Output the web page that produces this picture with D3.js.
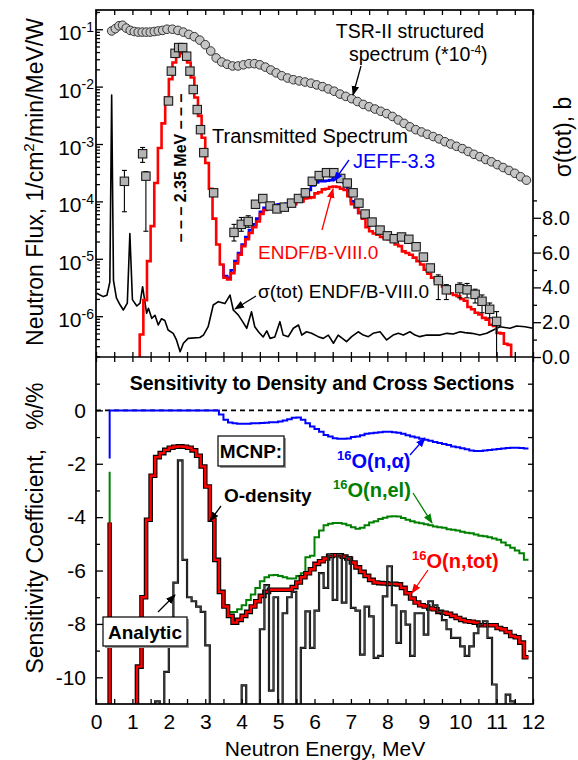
<!DOCTYPE html>
<html><head><meta charset="utf-8">
<script src="https://cdn.jsdelivr.net/npm/d3@7"></script>
<style>
body{margin:0;background:#fff;}
svg text{font-family:"Liberation Sans",Arial,Helvetica,sans-serif;}
</style></head><body>
<svg id="chart" width="578" height="760"></svg>
<script>
// ---------------- DATA ----------------
// TSR-II structured spectrum (*1e-4), log10 flux
const tsrE = [0.43,0.53,0.63,0.73,0.83,0.94,1.05,1.16,1.27,1.38,1.49,1.60,1.71,1.83,1.95,2.10,2.25,2.40,2.55,2.70,2.85,3.00,3.15,3.30,3.45,3.60,3.75,3.90,4.05,4.20,4.35,4.50,4.65,4.80,4.95,5.10,5.26,5.42,5.58,5.74,5.90,6.06,6.22,6.38,6.54,6.70,6.86,7.02,7.18,7.34,7.50,7.66,7.82,7.98,8.14,8.30,8.46,8.62,8.78,8.94,9.10,9.26,9.42,9.58,9.74,9.90,10.06,10.22,10.38,10.54,10.70,10.86,11.02,11.18,11.34,11.50,11.66,11.82];
const tsrLog = [-1.03,-0.99,-0.94,-0.93,-0.98,-1.02,-1.04,-1.05,-1.05,-1.05,-1.05,-1.04,-1.03,-1.02,-1.00,-1.00,-1.02,-1.05,-1.09,-1.13,-1.19,-1.27,-1.38,-1.50,-1.57,-1.61,-1.64,-1.64,-1.62,-1.60,-1.60,-1.62,-1.66,-1.71,-1.76,-1.81,-1.85,-1.88,-1.90,-1.92,-1.94,-1.97,-2.00,-2.04,-2.08,-2.13,-2.17,-2.21,-2.26,-2.31,-2.35,-2.39,-2.43,-2.47,-2.52,-2.58,-2.64,-2.70,-2.75,-2.79,-2.83,-2.87,-2.91,-2.96,-3.00,-3.04,-3.08,-3.13,-3.18,-3.22,-3.27,-3.31,-3.36,-3.41,-3.46,-3.51,-3.57,-3.63];

// Transmitted spectrum (measured), log10 flux and error bars
const transE = [0.78,1.28,1.37,1.99,2.07,2.17,2.27,2.38,2.49,2.58,2.67,2.78,2.87,2.96,3.23,3.79,3.99,4.18,4.38,4.58,4.78,4.97,5.17,5.37,5.56,5.75,5.94,6.13,6.33,6.53,6.72,6.90,7.06,7.22,7.39,7.58,7.80,8.00,8.19,8.39,8.59,8.79,8.99,9.18,9.40,9.62,9.99,10.19,10.41,10.60,10.81,11.00];
const transLog = [-3.65,-3.17,-3.56,-2.25,-1.73,-1.42,-1.32,-1.32,-1.47,-1.73,-2.05,-2.40,-2.75,-3.15,-3.85,-4.54,-4.40,-4.35,-4.05,-3.95,-4.08,-4.13,-4.10,-4.03,-3.95,-3.85,-3.65,-3.55,-3.50,-3.50,-3.60,-3.68,-3.85,-4.03,-4.22,-4.36,-4.50,-4.60,-4.65,-4.62,-4.66,-4.79,-4.97,-5.16,-5.38,-5.54,-5.52,-5.54,-5.62,-5.74,-5.88,-6.09];
const transErrLo = [-4.18,-3.32,-4.52,null,null,null,null,null,null,null,null,null,null,null,null,-4.69,-4.52,-4.45,null,null,null,null,null,null,null,null,null,null,null,null,null,null,null,null,null,null,null,null,null,null,null,null,null,null,-5.71,-5.71,-5.68,-5.68,-5.77,-5.94,-6.03,-7.0];
const transErrHi = [-3.46,-3.06,-3.48,null,null,null,null,null,null,null,null,null,null,null,null,-4.40,-4.28,-4.25,null,null,null,null,null,null,null,null,null,null,null,null,null,null,null,null,null,null,null,null,null,null,null,null,null,null,-5.28,-5.45,-5.42,-5.43,-5.53,-5.63,-5.77,-5.92];

// Calculated spectra (histograms, log10 flux); first entry = starting level
const topE = d3.range(104).map(i => +(1.2 + 0.1 * i).toFixed(2));
const endfLog = [-7,
 -6.32,-5.72,-5.04,-4.43,-3.68,-3.07,-2.64,-2.19,-1.87,-1.58,
 -1.47,-1.42,-1.48,-1.58,-1.84,-2.19,-2.51,-2.89,-3.33,-3.78,
 -4.3,-4.75,-5.1,-5.33,-5.36,-5.25,-5.08,-4.93,-4.78,-4.66,
 -4.55,-4.45,-4.35,-4.22,-4.15,-4.11,-4.1,-4.1,-4.1,-4.1,
 -4.09,-4.08,-4.05,-4.0,-4.0,-3.95,-3.94,-3.93,-3.86,-3.84,
 -3.79,-3.78,-3.75,-3.74,-3.75,-3.78,-3.8,-3.91,-4.05,-4.1,
 -4.2,-4.3,-4.45,-4.52,-4.56,-4.58,-4.62,-4.64,-4.66,-4.68,
 -4.75,-4.78,-4.87,-4.9,-4.93,-4.98,-5.04,-5.1,-5.19,-5.26,
 -5.33,-5.39,-5.42,-5.48,-5.55,-5.6,-5.63,-5.65,-5.7,-5.73,
 -5.84,-5.88,-5.94,-5.97,-6.03,-6.06,-6.15,-6.17,-6.29,-6.3,
 -6.48,-6.5,
 -7];
const jeffE = d3.range(39).map(i => +(3.5 + 0.1 * i).toFixed(2));
const jeffLog = [-5.1,
 -5.3,-5.33,-5.2,-5.04,-4.9,-4.75,-4.62,-4.5,-4.4,-4.3,
 -4.18,-4.11,-4.07,-4.06,-4.06,-4.05,-4.05,-4.04,-4.03,-4.0,
 -3.97,-3.93,-3.86,-3.8,-3.72,-3.67,-3.65,-3.65,-3.64,-3.63,
 -3.57,-3.58,-3.65,-3.68,-3.82,-4.0,-4.1,-4.2];

// sigma(tot) ENDF/B-VIII.0, barns
const sigE = [0.02,0.2,0.3,0.38,0.43,0.48,0.56,0.66,0.75,0.86,0.93,1.0,1.12,1.21,1.28,1.39,1.44,1.53,1.62,1.71,1.8,1.89,1.98,2.12,2.21,2.31,2.4,2.53,2.85,2.95,3.08,3.22,3.36,3.54,3.68,3.77,3.91,4.0,4.14,4.27,4.36,4.46,4.59,4.69,4.78,4.91,5.05,5.14,5.28,5.42,5.56,5.65,5.78,5.92,6.1,6.24,6.38,6.52,6.65,6.88,7.02,7.2,7.34,7.48,7.61,7.8,7.98,8.16,8.3,8.44,8.62,8.76,8.89,9.08,9.26,9.45,9.63,9.81,10.0,10.13,10.32,10.54,10.73,10.91,11.09,11.37,11.55,11.78,12.0];
const sigVal = [3.66,3.47,3.55,4.3,15.06,4.4,3.4,3.0,2.7,3.1,7.1,3.3,2.93,3.1,4.04,2.51,2.8,2.22,2.4,1.84,2.2,2.1,1.55,1.36,0.98,0.3,0.79,1.07,1.12,1.26,1.74,2.99,3.18,3.07,3.56,2.7,2.41,2.12,1.65,2.6,1.74,1.45,1.15,1.5,1.07,1.15,2.03,1.26,1.17,1.65,1.84,1.26,1.45,1.36,1.17,1.07,1.26,0.79,1.26,0.88,1.17,1.45,1.26,1.17,1.36,1.45,0.98,1.26,1.36,1.26,1.45,1.26,1.17,1.26,1.26,1.26,1.36,1.32,1.45,1.4,1.36,1.26,1.36,1.55,1.74,1.65,1.78,1.74,1.65];

// Sensitivity coefficients (%/%), histogram; first entry = starting level
const sensE = d3.range(93).map(i => 0.375 + 0.125 * i);
const sensTot = [-4.2,-12,-12,-12,-12,-12,-12,-9.6,-7.0,-4.1,-2.45,-1.75,-1.6,-1.48,-1.4,-1.36,-1.35,-1.36,-1.4,-1.5,-1.7,-2.1,-2.85,-4.1,-5.6,-6.8,-7.35,-7.7,-7.95,-7.85,-7.7,-7.55,-7.35,-7.15,-6.95,-6.8,-6.72,-6.72,-6.72,-6.72,-6.72,-6.62,-6.45,-6.25,-6.1,-5.95,-5.75,-5.65,-5.55,-5.45,-5.43,-5.43,-5.48,-5.55,-5.7,-5.88,-6.05,-6.2,-6.35,-6.45,-6.47,-6.48,-6.5,-6.5,-6.52,-6.65,-6.85,-7.05,-7.2,-7.3,-7.35,-7.42,-7.45,-7.55,-7.58,-7.62,-7.7,-7.78,-7.85,-7.9,-7.92,-7.95,-8.05,-8.05,-8.05,-8.05,-8.15,-8.2,-8.3,-8.45,-8.5,-8.7,-9.25];
const sensEl = [-2.3,-12,-12,-12,-12,-12,-12,-9.6,-7.0,-4.1,-2.45,-1.75,-1.6,-1.48,-1.4,-1.36,-1.35,-1.36,-1.4,-1.5,-1.7,-2.1,-2.85,-4.1,-5.6,-6.8,-7.3,-7.55,-7.55,-7.45,-7.3,-7.1,-6.9,-6.65,-6.4,-6.25,-6.18,-6.17,-6.2,-6.25,-6.3,-6.3,-6.2,-6.1,-5.5,-5.45,-4.75,-4.5,-4.3,-4.25,-4.22,-4.22,-4.25,-4.3,-4.38,-4.43,-4.4,-4.3,-4.2,-4.15,-4.07,-4.02,-3.98,-3.97,-3.98,-4.03,-4.1,-4.15,-4.2,-4.23,-4.27,-4.3,-4.35,-4.38,-4.4,-4.45,-4.47,-4.5,-4.55,-4.58,-4.6,-4.65,-4.7,-4.72,-4.75,-4.8,-4.85,-4.95,-5.05,-5.15,-5.25,-5.35,-5.6];
const sensAlpha = [-1.8,0,0,0,0,0,0,0,0,0,0,0,0,0,0,0,0,0,0,0,0,0,0,0,0,-0.15,-0.35,-0.45,-0.48,-0.5,-0.5,-0.5,-0.48,-0.48,-0.47,-0.46,-0.44,-0.44,-0.42,-0.38,-0.33,-0.28,-0.27,-0.35,-0.48,-0.6,-0.7,-0.8,-0.92,-0.98,-1.04,-1.06,-1.06,-1.05,-1.0,-0.98,-0.93,-0.88,-0.86,-0.84,-0.82,-0.8,-0.8,-0.82,-0.84,-0.88,-0.93,-0.98,-1.02,-1.06,-1.1,-1.14,-1.18,-1.22,-1.26,-1.3,-1.35,-1.38,-1.42,-1.46,-1.5,-1.52,-1.52,-1.5,-1.48,-1.47,-1.45,-1.43,-1.41,-1.4,-1.4,-1.41,-1.43];
const sensAnalytic = [-12,-12,-12,-12,-12,-12,-12,-12,-12,-12,-12,-10.9,-12,-9.8,-8.0,-6.45,-1.87,-5.6,-7.0,-7.15,-7.35,-7.55,-8.8,-12,-12,-12,-12,-12,-12,-12,-10.3,-12,-12,-12,-8.2,-6.55,-10.5,-7.0,-12,-7.6,-7.0,-6.8,-12,-8.9,-7.53,-8.9,-7.5,-6.1,-6.65,-5.4,-7.1,-5.4,-7.2,-5.5,-7.4,-7.5,-9.15,-7.35,-7.72,-9.27,-9.2,-6.97,-5.84,-7.3,-8.71,-7.53,-8.03,-9.2,-7.6,-7.6,-8.4,-7.15,-7.3,-7.53,-7.86,-8.2,-8.52,-8.52,-8.84,-9.2,-8.84,-8.35,-8.03,-7.9,-8.52,-10.27,-12,-12,-10.65,-10.9,-12,-12,-12];

// Tick definitions
const xTicksHalf = d3.range(0, 12.01, 0.5);
const xTickLabels = d3.range(0, 13, 1);
const fluxDecades = [-6, -5, -4, -3, -2, -1];
const sigTickLabels = [0, 2, 4, 6, 8];
const sigMinor = [1, 3, 5, 7, 9];
const sensTickLabels = [0, -2, -4, -6, -8, -10];
const sensMinor = [1, -1, -3, -5, -7, -9];

// ---------------- LAYOUT ----------------
const L = 96, R = 533, T = 10, M = 357, B = 704;
const FONT = "'Liberation Sans', Arial, Helvetica, sans-serif";
const svg = d3.select("#chart");
const x = d3.scaleLinear().domain([0, 12]).range([L, R]);
const yTop = d3.scaleLog().domain([Math.pow(10, -6.711), Math.pow(10, -0.665)]).range([M, T]);
const ySig = d3.scaleLinear().domain([0, (M - T) / 17.4]).range([M, T]);
const yBot = d3.scaleLinear().domain([-11, 2]).range([B, M]);
const p10 = v => Math.pow(10, v);

const defs = svg.append("defs");
defs.append("clipPath").attr("id", "clipTop").append("rect").attr("x", L).attr("y", T).attr("width", R - L).attr("height", M - T);
defs.append("clipPath").attr("id", "clipBot").append("rect").attr("x", L).attr("y", M).attr("width", R - L).attr("height", B - M);
function marker(id, color) {
  defs.append("marker").attr("id", id).attr("viewBox", "0 0 10 10").attr("refX", 9).attr("refY", 5)
    .attr("markerWidth", 10).attr("markerHeight", 10).attr("markerUnits", "userSpaceOnUse").attr("orient", "auto")
    .append("path").attr("d", "M0,1.2L10,5L0,8.8Z").attr("fill", color);
}
marker("mBlack", "#000"); marker("mRed", "#ff0000"); marker("mBlue", "#0000ff"); marker("mGreen", "#008000");
function arrow(x1, y1, x2, y2, color, mid) {
  svg.append("line").attr("x1", x1).attr("y1", y1).attr("x2", x2).attr("y2", y2)
    .attr("stroke", color).attr("stroke-width", 1.3).attr("marker-end", `url(#${mid})`);
}
function txt(xp, yp, s, size, opts = {}) {
  return svg.append("text").attr("x", xp).attr("y", yp).attr("font-size", size)
    .attr("font-weight", opts.bold ? "bold" : "normal").attr("fill", opts.fill || "#000")
    .attr("text-anchor", opts.anchor || "start").text(s);
}

// ---------------- TOP PANEL ----------------
const gTop = svg.append("g").attr("clip-path", "url(#clipTop)");
gTop.append("path").datum(sigE.map((e, i) => [e, sigVal[i]]))
  .attr("d", d3.line().x(d => x(d[0])).y(d => ySig(d[1])))
  .attr("fill", "none").attr("stroke", "#000").attr("stroke-width", 1.6).attr("stroke-linejoin", "round");
const stepTop = d3.line().x(d => x(d[0])).y(d => yTop(p10(d[1]))).curve(d3.curveStepBefore);
gTop.append("path").datum(jeffE.map((e, i) => [e, jeffLog[i]])).attr("d", stepTop)
  .attr("fill", "none").attr("stroke", "#0000ff").attr("stroke-width", 2.6);
gTop.append("path").datum(topE.map((e, i) => [e, endfLog[i]])).attr("d", stepTop)
  .attr("fill", "none").attr("stroke", "#ff0000").attr("stroke-width", 2.6);
transE.forEach((e, i) => {
  if (transErrLo[i] === null) return;
  const xx = x(e), y1 = yTop(p10(transErrLo[i])), y2 = yTop(p10(transErrHi[i]));
  gTop.append("line").attr("x1", xx).attr("x2", xx).attr("y1", y1).attr("y2", y2).attr("stroke", "#000").attr("stroke-width", 1.1);
  [y1, y2].forEach(yy => gTop.append("line").attr("x1", xx - 2.5).attr("x2", xx + 2.5).attr("y1", yy).attr("y2", yy).attr("stroke", "#000").attr("stroke-width", 1.1));
});
svg.append("g").selectAll("rect").data(transE.map((e, i) => [e, transLog[i]])).join("rect")
  .attr("x", d => x(d[0]) - 4.2).attr("y", d => yTop(p10(d[1])) - 4.2).attr("width", 8.4).attr("height", 8.4)
  .attr("fill", "#b4b4b4").attr("stroke", "#1a1a1a").attr("stroke-width", 1.1);
svg.append("g").selectAll("circle").data(tsrE.map((e, i) => [e, tsrLog[i]])).join("circle")
  .attr("cx", d => x(d[0])).attr("cy", d => yTop(p10(d[1]))).attr("r", 4.3)
  .attr("fill", "#c6c6c6").attr("stroke", "#333").attr("stroke-width", 1);

// ---------------- BOTTOM PANEL ----------------
svg.append("line").attr("x1", L).attr("x2", R).attr("y1", yBot(0)).attr("y2", yBot(0))
  .attr("stroke", "#000").attr("stroke-width", 1.6).attr("stroke-dasharray", "5,4");
const gBot = svg.append("g").attr("clip-path", "url(#clipBot)");
const stepBot = d3.line().x(d => x(d[0])).y(d => yBot(d[1])).curve(d3.curveStepBefore);
const bd = arr => sensE.map((e, i) => [e, arr[i]]);
gBot.append("path").datum(bd(sensEl)).attr("d", stepBot).attr("fill", "none").attr("stroke", "#008000").attr("stroke-width", 2);
gBot.append("path").datum(bd(sensAlpha)).attr("d", stepBot).attr("fill", "none").attr("stroke", "#0000ff").attr("stroke-width", 2);
gBot.append("path").datum(bd(sensTot)).attr("d", stepBot).attr("fill", "none").attr("stroke", "#000").attr("stroke-width", 4.6);
gBot.append("path").datum(bd(sensTot)).attr("d", stepBot).attr("fill", "none").attr("stroke", "#ff0000").attr("stroke-width", 2.4);
gBot.append("path").datum(bd(sensAnalytic)).attr("d", stepBot).attr("fill", "none").attr("stroke", "#000").attr("stroke-width", 2.2);
gBot.append("path").datum(bd(sensAnalytic)).attr("d", stepBot).attr("fill", "none").attr("stroke", "#9a9a9a").attr("stroke-width", 0.45);

// ---------------- AXES ----------------
function styleAxis(g, size) {
  g.select(".domain").remove();
  g.selectAll(".tick line").attr("stroke", "#000").attr("stroke-width", 1.3);
  g.selectAll("text").attr("font-family", FONT).attr("font-size", size).attr("fill", "#000");
}
svg.append("g").attr("transform", `translate(0,${T})`).call(d3.axisBottom(x).tickValues(xTicksHalf).tickSize(5).tickFormat(() => "")).call(g => styleAxis(g));
svg.append("g").attr("transform", `translate(0,${M})`).call(d3.axisTop(x).tickValues(xTicksHalf).tickSize(5).tickFormat(() => "")).call(g => styleAxis(g));
svg.append("g").attr("transform", `translate(0,${M})`).call(d3.axisBottom(x).tickValues(xTicksHalf).tickSize(5).tickFormat(() => "")).call(g => styleAxis(g));
svg.append("g").attr("transform", `translate(0,${B})`).call(d3.axisTop(x).tickValues(xTicksHalf).tickSize(5).tickFormat(() => "")).call(g => styleAxis(g));
svg.append("g").attr("transform", `translate(0,${B})`).call(d3.axisBottom(x).tickValues(xTickLabels).tickSize(0).tickPadding(10).tickFormat(d3.format("d"))).call(g => styleAxis(g, 21));

const fluxMinor = [];
for (let e = -7; e <= -1; e++) for (let m = 2; m <= 9; m++) { const v = m * Math.pow(10, e); if (v >= yTop.domain()[0] && v <= yTop.domain()[1]) fluxMinor.push(v); }
svg.append("g").attr("transform", `translate(${L},0)`).call(d3.axisRight(yTop).tickValues(fluxDecades.map(p10)).tickSize(7).tickFormat(() => "")).call(g => styleAxis(g));
svg.append("g").attr("transform", `translate(${L},0)`).call(d3.axisRight(yTop).tickValues(fluxMinor).tickSize(4).tickFormat(() => "")).call(g => styleAxis(g));
const gFluxLab = svg.append("g").attr("transform", `translate(${L},0)`)
  .call(d3.axisLeft(yTop).tickValues(fluxDecades.map(p10)).tickSize(0).tickPadding(2).tickFormat(() => ""));
gFluxLab.select(".domain").remove();
gFluxLab.selectAll(".tick text").attr("font-family", FONT).attr("font-size", 21).attr("fill", "#000").attr("dy", "0.5em")
  .each(function (d) {
    const t = d3.select(this);
    t.append("tspan").text("10");
    t.append("tspan").attr("font-size", 14).attr("dy", "-0.6em").text(String(Math.round(Math.log10(d))));
  });

svg.append("g").attr("transform", `translate(${R},0)`).call(d3.axisRight(ySig).tickValues(sigTickLabels).tickSize(8).tickPadding(1).tickFormat(d3.format(".1f"))).call(g => styleAxis(g, 20));
svg.append("g").attr("transform", `translate(${R},0)`).call(d3.axisRight(ySig).tickValues(sigMinor).tickSize(4).tickFormat(() => "")).call(g => styleAxis(g));

svg.append("g").attr("transform", `translate(${L},0)`).call(d3.axisRight(yBot).tickValues(sensTickLabels).tickSize(7).tickFormat(() => "")).call(g => styleAxis(g));
svg.append("g").attr("transform", `translate(${L},0)`).call(d3.axisRight(yBot).tickValues(sensMinor).tickSize(4).tickFormat(() => "")).call(g => styleAxis(g));
svg.append("g").attr("transform", `translate(${L},0)`).call(d3.axisLeft(yBot).tickValues(sensTickLabels).tickSize(0).tickPadding(10).tickFormat(d => String(d))).call(g => styleAxis(g, 21));
svg.append("g").attr("transform", `translate(${R},0)`).call(d3.axisLeft(yBot).tickValues(d3.range(-10, 2, 1)).tickSize(5).tickFormat(() => "")).call(g => styleAxis(g));

svg.append("rect").attr("x", L).attr("y", T).attr("width", R - L).attr("height", B - T).attr("fill", "none").attr("stroke", "#000").attr("stroke-width", 1.7);
svg.append("line").attr("x1", L).attr("x2", R).attr("y1", M).attr("y2", M).attr("stroke", "#000").attr("stroke-width", 1.7);

// ---------------- TITLES ----------------
const yt1 = svg.append("text").attr("transform", "translate(43,182) rotate(-90)").attr("text-anchor", "middle").attr("font-size", 23);
yt1.append("tspan").text("Neutron Flux, 1/cm");
yt1.append("tspan").attr("font-size", 15).attr("dy", "-0.6em").text("2");
yt1.append("tspan").attr("dy", "0.4em").text("/min/MeV/W");
svg.append("text").attr("transform", "translate(43,528) rotate(-90)").attr("text-anchor", "middle").attr("font-size", 23)
  .attr("xml:space", "preserve").style("white-space", "pre").text("Sensitivity Coefficient,   %/%");
svg.append("text").attr("transform", "translate(571,137) rotate(-90)").attr("text-anchor", "middle").attr("font-size", 23).text("σ(tot), b");
txt(325, 756, "Neutron Energy, MeV", 21, { anchor: "middle" });

// ---------------- ANNOTATIONS (top) ----------------
txt(410, 38, "TSR-II structured", 19.5, { anchor: "middle" });
const sp = svg.append("text").attr("x", 349).attr("y", 61).attr("font-size", 19.5);
sp.append("tspan").text("spectrum (*10");
sp.append("tspan").attr("font-size", 12).attr("dy", -7).text("-4");
sp.append("tspan").attr("dy", 7).text(")");
arrow(361, 66, 353, 95, "#000", "mBlack");
txt(212, 143, "Transmitted Spectrum", 20);
txt(353, 168, "JEFF-3.3", 20, { fill: "#0000ff" });
arrow(349, 160, 334, 181, "#0000ff", "mBlue");
txt(258, 259, "ENDF/B-VIII.0", 19, { fill: "#ff0000" });
arrow(322, 230, 333, 189, "#ff0000", "mRed");
txt(258, 298, "σ(tot) ENDF/B-VIII.0", 19);
arrow(256, 296, 235, 309, "#000", "mBlack");
svg.append("text").attr("transform", "translate(186,168) rotate(-90)").attr("text-anchor", "middle")
  .attr("font-size", 16).attr("font-weight", "bold").attr("xml:space", "preserve").style("white-space", "pre")
  .text("– – – 2.35 MeV – – –");

// ---------------- ANNOTATIONS (bottom) ----------------
txt(322, 390, "Sensitivity to Density and Cross Sections", 19.5, { bold: true, anchor: "middle" });
svg.append("rect").attr("x", 220).attr("y", 438).attr("width", 66).attr("height", 30).attr("fill", "#999");
svg.append("rect").attr("x", 218).attr("y", 436).attr("width", 66).attr("height", 30).attr("fill", "#fff").attr("stroke", "#000").attr("stroke-width", 1.2);
txt(251, 458, "MCNP:", 19, { bold: true, anchor: "middle" });
txt(224, 502, "O-density", 19, { bold: true });
arrow(221, 506, 210, 521, "#000", "mBlack");
function isoLabel(xp, yp, rest, color) {
  const t = svg.append("text").attr("x", xp).attr("y", yp).attr("font-size", 20).attr("font-weight", "bold").attr("fill", color);
  t.append("tspan").attr("font-size", 13).attr("dy", -8).text("16");
  t.append("tspan").attr("dy", 8).text(rest);
}
isoLabel(337, 468, "O(n,α)", "#0000ff");
arrow(410, 455, 425, 438, "#0000ff", "mBlue");
isoLabel(333, 497, "O(n,el)", "#008000");
arrow(413, 493, 432, 523, "#008000", "mGreen");
isoLabel(412, 568, "O(n,tot)", "#ff0000");
arrow(428, 570, 412, 593, "#ff0000", "mRed");
svg.append("rect").attr("x", 105).attr("y", 619).attr("width", 84).attr("height", 29).attr("fill", "#999");
svg.append("rect").attr("x", 103).attr("y", 617).attr("width", 84).attr("height", 29).attr("fill", "#fff").attr("stroke", "#000").attr("stroke-width", 1.2);
txt(145, 639, "Analytic", 19, { bold: true, anchor: "middle" });
arrow(158, 612, 175, 595, "#000", "mBlack");
</script></body></html>
